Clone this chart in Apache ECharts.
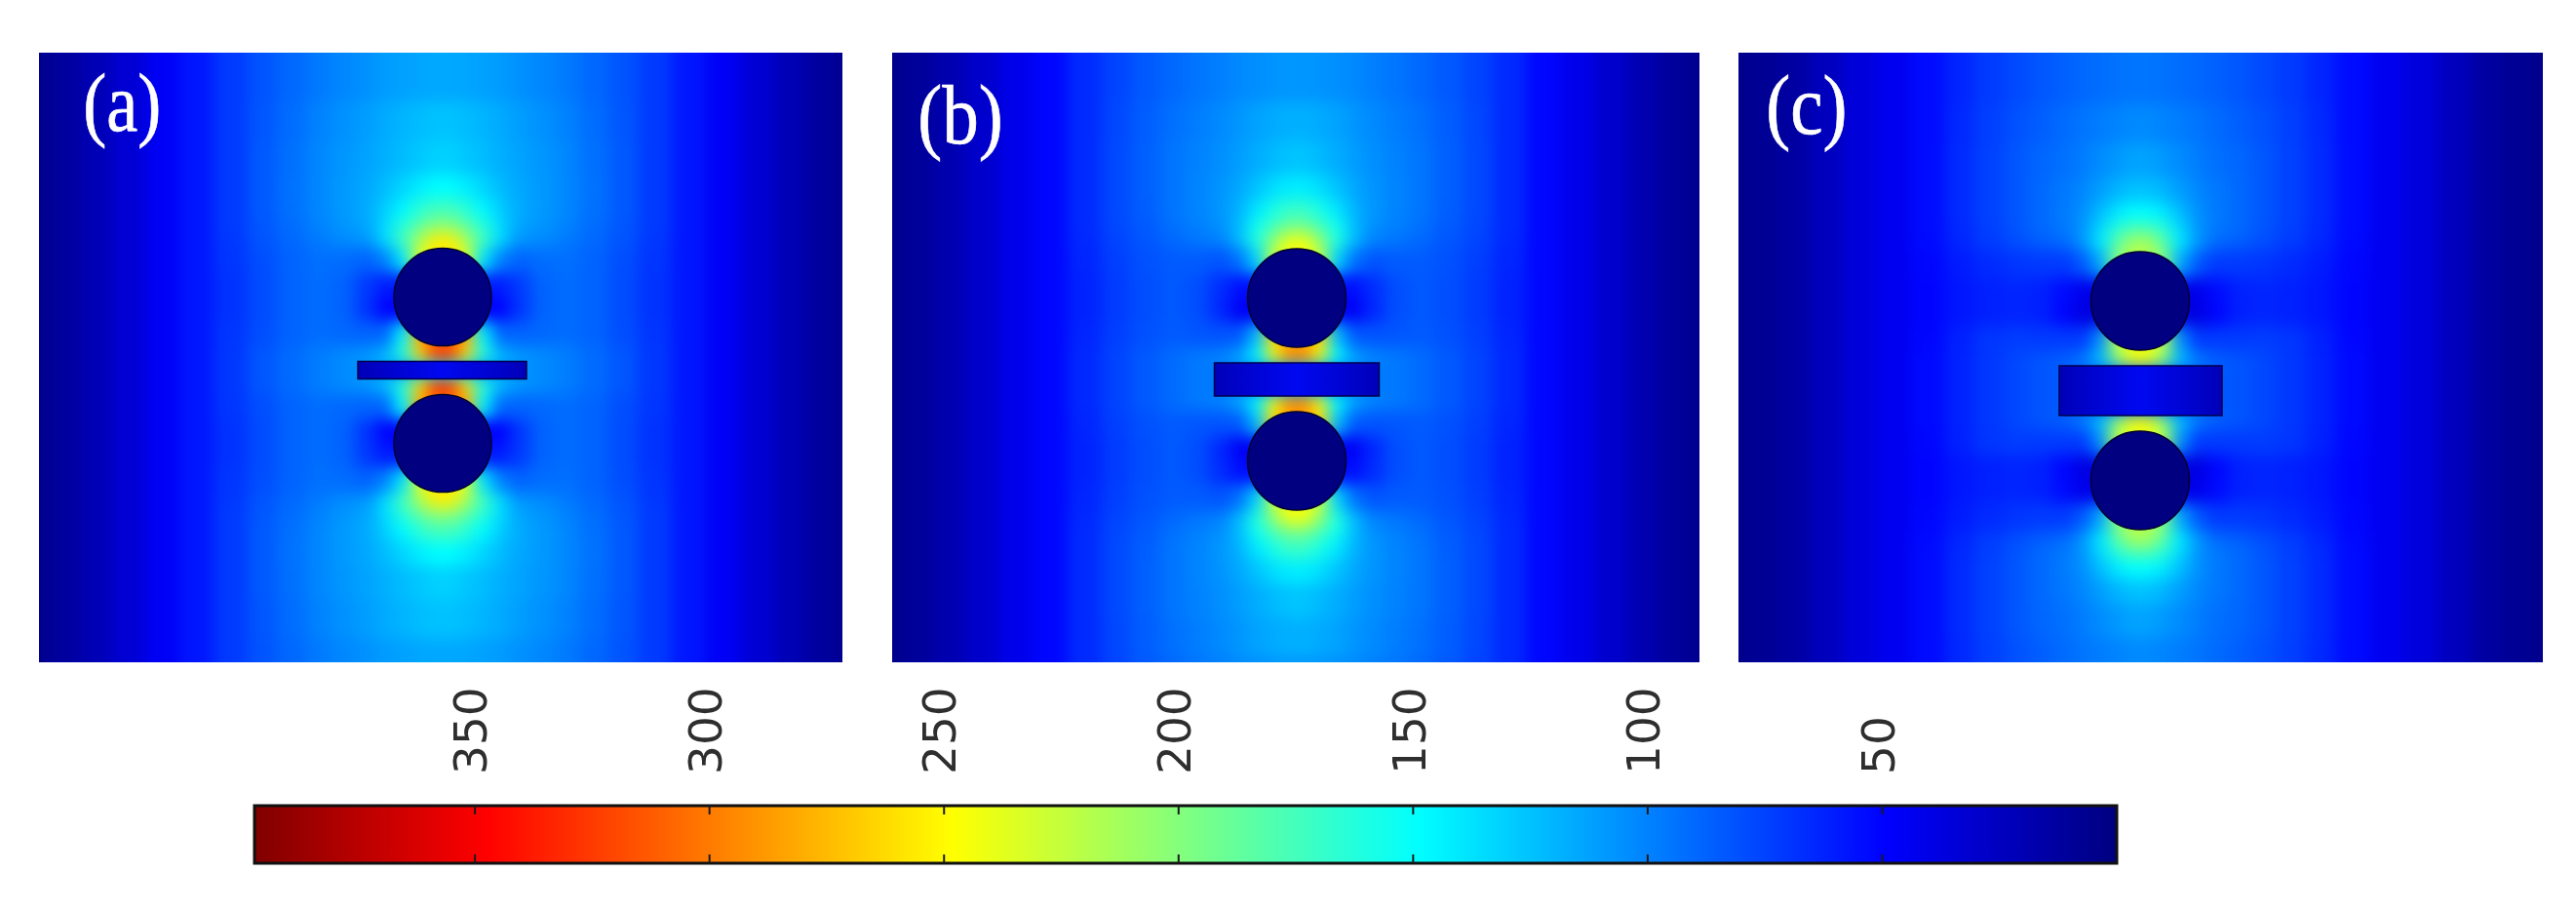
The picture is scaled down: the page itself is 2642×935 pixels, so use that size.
<!DOCTYPE html>
<html><head><meta charset="utf-8">
<script src="https://cdn.jsdelivr.net/npm/echarts@6/dist/echarts.min.js"></script>
<style>
html,body{margin:0;padding:0;background:#fff;width:2642px;height:935px;overflow:hidden}
#field,#overlay{position:absolute;left:0;top:0;width:2642px;height:935px}
#field{filter:blur(8px);clip-path:path('M40 54H864V679H40Z M915 54H1743V679H915Z M1783 54H2608V679H1783Z')}
#overlay{filter:blur(0.6px)}
</style></head><body>
<div id="field"></div><div id="overlay"></div>
<script>
const panelLabels=['(a)','(b)','(c)'];
const colorStops=['#00007f','#0000ff','#0080ff','#00ffff','#80ff80','#ffff00','#ff8000','#ff0000','#7f0000'];
const barTicks=[50,100,150,200,250,300,350];
const barMax=397;
const colHalfEdges=[0,16,32,50,68,90,115,140,170,200,235,270,305,340,372,404,435];
const rowHalfEdgesA=[0,9,17,25,50,75,100,125,140,155,175,200,235,275,370];
const rowHalfEdgesB=[0,17,25,33,58,83,108,134,149,164,184,209,244,284,370];
const rowHalfEdgesC=[0,25,33,41,66,91,116,143,158,173,193,218,253,293,370];
const fieldA=[
[5,12,21,33,46,58,72,82,90,97,102,106,110,112,114,115,114,112,110,106,102,97,90,82,72,58,46,33,21,12,5],
[5,12,21,33,46,58,72,83,92,100,106,111,116,120,123,125,123,120,116,111,106,100,92,83,72,58,46,33,21,12,5],
[5,12,21,33,46,58,72,84,93,102,108,113,118,123,127,131,127,123,118,113,108,102,93,84,72,58,46,33,21,12,5],
[5,12,21,33,46,58,72,84,94,102,109,115,123,133,142,148,142,133,123,115,109,102,94,84,72,58,46,33,21,12,5],
[5,12,21,33,46,58,72,84,93,102,109,116,130,147,165,175,165,147,130,116,109,102,93,84,72,58,46,33,21,12,5],
[5,12,21,33,46,58,72,83,92,100,107,114,135,165,188,205,188,165,135,114,107,100,92,83,72,58,46,33,21,12,5],
[5,12,21,33,46,58,71,82,90,97,103,108,135,175,215,255,215,175,135,108,103,97,90,82,71,58,46,33,21,12,5],
[5,12,21,33,46,58,70,80,88,93,92,88,100,140,235,255,235,140,100,88,92,93,88,80,70,58,46,33,21,12,5],
[5,12,21,33,46,58,69,79,88,92,88,72,60,60,60,60,60,60,60,72,88,92,88,79,69,58,46,33,21,12,5],
[5,12,21,33,46,58,69,79,88,92,88,70,50,50,50,50,50,50,50,70,88,92,88,79,69,58,46,33,21,12,5],
[5,12,21,33,46,58,70,80,88,92,90,88,90,145,280,310,280,145,90,88,90,92,88,80,70,58,46,33,21,12,5],
[5,12,21,33,46,58,71,83,91,98,103,108,122,165,262,325,262,165,122,108,103,98,91,83,71,58,46,33,21,12,5],
[5,12,21,33,46,58,71,83,91,98,103,108,122,165,262,320,262,165,122,108,103,98,91,83,71,58,46,33,21,12,5],
[5,12,21,33,46,58,71,83,91,98,103,107,110,110,130,130,130,110,110,107,103,98,91,83,71,58,46,33,21,12,5],
[5,12,21,33,46,58,71,83,91,98,103,108,122,165,262,320,262,165,122,108,103,98,91,83,71,58,46,33,21,12,5],
[5,12,21,33,46,58,71,83,91,98,103,108,122,165,262,325,262,165,122,108,103,98,91,83,71,58,46,33,21,12,5],
[5,12,21,33,46,58,70,80,88,92,90,88,90,145,280,310,280,145,90,88,90,92,88,80,70,58,46,33,21,12,5],
[5,12,21,33,46,58,69,79,88,92,88,70,50,50,50,50,50,50,50,70,88,92,88,79,69,58,46,33,21,12,5],
[5,12,21,33,46,58,69,79,88,92,88,72,60,60,60,60,60,60,60,72,88,92,88,79,69,58,46,33,21,12,5],
[5,12,21,33,46,58,70,80,88,93,92,88,100,140,235,255,235,140,100,88,92,93,88,80,70,58,46,33,21,12,5],
[5,12,21,33,46,58,71,82,90,97,103,108,135,175,215,255,215,175,135,108,103,97,90,82,71,58,46,33,21,12,5],
[5,12,21,33,46,58,72,83,92,100,107,114,135,165,188,205,188,165,135,114,107,100,92,83,72,58,46,33,21,12,5],
[5,12,21,33,46,58,72,84,93,102,109,116,130,147,165,175,165,147,130,116,109,102,93,84,72,58,46,33,21,12,5],
[5,12,21,33,46,58,72,84,94,102,109,115,123,133,142,148,142,133,123,115,109,102,94,84,72,58,46,33,21,12,5],
[5,12,21,33,46,58,72,84,93,102,108,113,118,123,127,131,127,123,118,113,108,102,93,84,72,58,46,33,21,12,5],
[5,12,21,33,46,58,72,83,92,100,106,111,116,120,123,125,123,120,116,111,106,100,92,83,72,58,46,33,21,12,5],
[5,12,21,33,46,58,72,82,90,97,102,106,110,112,114,115,114,112,110,106,102,97,90,82,72,58,46,33,21,12,5]];
const fieldB=[
[5,11,19,30,42,52,66,76,84,90,95,99,103,105,107,108,107,105,103,99,95,90,84,76,66,52,42,30,19,11,5],
[5,11,19,30,42,52,66,77,86,93,98,103,108,113,116,118,116,113,108,103,98,93,86,77,66,52,42,30,19,11,5],
[5,11,19,30,42,52,66,78,87,95,100,105,111,117,122,126,122,117,111,105,100,95,87,78,66,52,42,30,19,11,5],
[5,11,19,30,42,52,66,78,87,95,101,107,115,126,136,142,136,126,115,107,101,95,87,78,66,52,42,30,19,11,5],
[5,11,19,30,42,52,66,78,86,95,101,108,120,140,158,170,158,140,120,108,101,95,86,78,66,52,42,30,19,11,5],
[5,11,19,30,42,52,66,77,85,93,99,105,123,155,178,195,178,155,123,105,99,93,85,77,66,52,42,30,19,11,5],
[5,11,19,30,42,52,65,76,83,90,95,100,122,162,205,242,205,162,122,100,95,90,83,76,65,52,42,30,19,11,5],
[5,11,19,30,42,52,64,74,81,85,85,82,94,132,225,245,225,132,94,82,85,85,81,74,64,52,42,30,19,11,5],
[5,11,19,30,42,52,63,73,80,84,80,67,55,55,55,55,55,55,55,67,80,84,80,73,63,52,42,30,19,11,5],
[5,11,19,30,42,52,63,73,80,84,80,65,46,46,46,46,46,46,46,65,80,84,80,73,63,52,42,30,19,11,5],
[5,11,19,30,42,52,64,74,81,85,83,82,84,124,262,285,262,124,84,82,83,85,81,74,64,52,42,30,19,11,5],
[5,11,19,30,42,52,65,76,84,91,96,100,113,150,245,295,245,150,113,100,96,91,84,76,65,52,42,30,19,11,5],
[5,11,19,30,42,52,65,76,84,91,96,100,113,150,240,288,240,150,113,100,96,91,84,76,65,52,42,30,19,11,5],
[5,11,19,30,42,52,65,76,84,91,96,98,102,102,110,110,110,102,102,98,96,91,84,76,65,52,42,30,19,11,5],
[5,11,19,30,42,52,65,76,84,91,96,100,113,150,240,288,240,150,113,100,96,91,84,76,65,52,42,30,19,11,5],
[5,11,19,30,42,52,65,76,84,91,96,100,113,150,245,295,245,150,113,100,96,91,84,76,65,52,42,30,19,11,5],
[5,11,19,30,42,52,64,74,81,85,83,82,84,124,262,285,262,124,84,82,83,85,81,74,64,52,42,30,19,11,5],
[5,11,19,30,42,52,63,73,80,84,80,65,46,46,46,46,46,46,46,65,80,84,80,73,63,52,42,30,19,11,5],
[5,11,19,30,42,52,63,73,80,84,80,67,55,55,55,55,55,55,55,67,80,84,80,73,63,52,42,30,19,11,5],
[5,11,19,30,42,52,64,74,81,85,85,82,94,132,225,245,225,132,94,82,85,85,81,74,64,52,42,30,19,11,5],
[5,11,19,30,42,52,65,76,83,90,95,100,122,162,205,242,205,162,122,100,95,90,83,76,65,52,42,30,19,11,5],
[5,11,19,30,42,52,66,77,85,93,99,105,123,155,178,195,178,155,123,105,99,93,85,77,66,52,42,30,19,11,5],
[5,11,19,30,42,52,66,78,86,95,101,108,120,140,158,170,158,140,120,108,101,95,86,78,66,52,42,30,19,11,5],
[5,11,19,30,42,52,66,78,87,95,101,107,115,126,136,142,136,126,115,107,101,95,87,78,66,52,42,30,19,11,5],
[5,11,19,30,42,52,66,78,87,95,100,105,111,117,122,126,122,117,111,105,100,95,87,78,66,52,42,30,19,11,5],
[5,11,19,30,42,52,66,77,86,93,98,103,108,113,116,118,116,113,108,103,98,93,86,77,66,52,42,30,19,11,5],
[5,11,19,30,42,52,66,76,84,90,95,99,103,105,107,108,107,105,103,99,95,90,84,76,66,52,42,30,19,11,5]];
const fieldC=[
[4,8,13,24,36,44,54,64,72,78,83,87,90,92,94,95,94,92,90,87,83,78,72,64,54,44,36,24,13,8,4],
[4,8,13,24,36,44,54,65,74,81,86,91,95,98,101,103,101,98,95,91,86,81,74,65,54,44,36,24,13,8,4],
[4,8,13,24,36,44,54,66,75,83,89,93,98,104,109,113,109,104,98,93,89,83,75,66,54,44,36,24,13,8,4],
[4,8,13,24,36,44,54,66,75,83,90,96,102,111,120,125,120,111,102,96,90,83,75,66,54,44,36,24,13,8,4],
[4,8,13,24,36,44,54,66,75,83,90,97,106,123,140,148,140,123,106,97,90,83,75,66,54,44,36,24,13,8,4],
[4,8,13,24,36,44,54,65,74,82,90,96,108,135,165,180,165,135,108,96,90,82,74,65,54,44,36,24,13,8,4],
[4,8,13,24,36,44,53,64,72,79,85,90,108,140,185,215,185,140,108,90,85,79,72,64,53,44,36,24,13,8,4],
[4,8,13,24,36,44,52,60,66,70,72,72,84,115,200,220,200,115,84,72,72,70,66,60,52,44,36,24,13,8,4],
[4,8,13,24,36,44,51,58,62,64,62,54,42,42,42,42,42,42,42,54,62,64,62,58,51,44,36,24,13,8,4],
[4,8,13,24,36,44,51,58,62,64,62,52,38,38,38,38,38,38,38,52,62,64,62,58,51,44,36,24,13,8,4],
[4,8,13,24,36,44,52,62,70,73,72,72,72,105,220,240,220,105,72,72,72,73,70,62,52,44,36,24,13,8,4],
[4,8,13,24,36,44,53,63,71,77,82,86,97,125,205,245,205,125,97,86,82,77,71,63,53,44,36,24,13,8,4],
[4,8,13,24,36,44,53,63,71,77,82,86,97,125,200,240,200,125,97,86,82,77,71,63,53,44,36,24,13,8,4],
[4,8,13,24,36,44,53,63,71,77,82,84,86,86,90,90,90,86,86,84,82,77,71,63,53,44,36,24,13,8,4],
[4,8,13,24,36,44,53,63,71,77,82,86,97,125,200,240,200,125,97,86,82,77,71,63,53,44,36,24,13,8,4],
[4,8,13,24,36,44,53,63,71,77,82,86,97,125,205,245,205,125,97,86,82,77,71,63,53,44,36,24,13,8,4],
[4,8,13,24,36,44,52,62,70,73,72,72,72,105,220,240,220,105,72,72,72,73,70,62,52,44,36,24,13,8,4],
[4,8,13,24,36,44,51,58,62,64,62,52,38,38,38,38,38,38,38,52,62,64,62,58,51,44,36,24,13,8,4],
[4,8,13,24,36,44,51,58,62,64,62,54,42,42,42,42,42,42,42,54,62,64,62,58,51,44,36,24,13,8,4],
[4,8,13,24,36,44,52,60,66,70,72,72,84,115,200,220,200,115,84,72,72,70,66,60,52,44,36,24,13,8,4],
[4,8,13,24,36,44,53,64,72,79,85,90,108,140,185,215,185,140,108,90,85,79,72,64,53,44,36,24,13,8,4],
[4,8,13,24,36,44,54,65,74,82,90,96,108,135,165,180,165,135,108,96,90,82,74,65,54,44,36,24,13,8,4],
[4,8,13,24,36,44,54,66,75,83,90,97,106,123,140,148,140,123,106,97,90,83,75,66,54,44,36,24,13,8,4],
[4,8,13,24,36,44,54,66,75,83,90,96,102,111,120,125,120,111,102,96,90,83,75,66,54,44,36,24,13,8,4],
[4,8,13,24,36,44,54,66,75,83,89,93,98,104,109,113,109,104,98,93,89,83,75,66,54,44,36,24,13,8,4],
[4,8,13,24,36,44,54,65,74,81,86,91,95,98,101,103,101,98,95,91,86,81,74,65,54,44,36,24,13,8,4],
[4,8,13,24,36,44,54,64,72,78,83,87,90,92,94,95,94,92,90,87,83,78,72,64,54,44,36,24,13,8,4]];
const circleOffsets=[75,83.5,92];
const circleDiameters=[100,101,101];
const slabs=[[-87,86,-9,9],[-84.5,84.5,-17,17],[-83,84,-25.5,25.5]];

const panels=[
 {cx:454,cy:379.6,field:fieldA,rows:rowHalfEdgesA,lx:85,ly:109,fs:72},
 {cx:1330,cy:389,field:fieldB,rows:rowHalfEdgesB,lx:941,ly:121,fs:75},
 {cx:2195,cy:400.5,field:fieldC,rows:rowHalfEdgesC,lx:1811,ly:111,fs:75}];
const HX=435,HY=370;
function bands(h){const n=h.length,o=[];for(let i=n-1;i>1;i--)o.push([-h[i],-h[i-1]]);o.push([-h[1],h[1]]);for(let i=1;i<n-1;i++)o.push([h[i],h[i+1]]);return o;}
const grids=panels.map(p=>({left:p.cx-HX,top:p.cy-HY,width:2*HX,height:2*HY,show:false}));
const mkX=()=>panels.map((p,i)=>({type:'value',gridIndex:i,min:-HX,max:HX,show:false}));
const mkY=()=>panels.map((p,i)=>({type:'value',gridIndex:i,min:-HY,max:HY,inverse:true,show:false}));
const colBands=bands(colHalfEdges);

const fieldChart=echarts.init(document.getElementById('field'));
fieldChart.setOption({animation:false,grid:grids,xAxis:mkX(),yAxis:mkY(),
 visualMap:{show:false,type:'continuous',min:0,max:barMax,dimension:4,inRange:{color:colorStops},seriesIndex:[0,1,2]},
 series:panels.map((p,i)=>{const rb=bands(p.rows),d=[];
  rb.forEach((r,ri)=>colBands.forEach((c,ci)=>d.push([c[0],c[1],r[0],r[1],p.field[ri][ci]])));
  return {type:'custom',xAxisIndex:i,yAxisIndex:i,data:d,clip:false,silent:true,encode:{x:[0,1],y:[2,3]},
   renderItem:(params,api)=>{const a=api.coord([api.value(0),api.value(2)]),b=api.coord([api.value(1),api.value(3)]);
    return {type:'rect',shape:{x:a[0],y:a[1],width:b[0]-a[0]+1,height:b[1]-a[1]+1},style:{fill:api.visual('color')}};}};})
});

const overlay=echarts.init(document.getElementById('overlay'));
const barIdx=panels.length;
const oSeries=[];
panels.forEach((p,i)=>{
 oSeries.push({type:'custom',xAxisIndex:i,yAxisIndex:i,data:[slabs[i]],clip:false,silent:true,encode:{x:[0,1],y:[2,3]},
  renderItem:(params,api)=>{const a=api.coord([api.value(0),api.value(2)]),b=api.coord([api.value(1),api.value(3)]);
   return {type:'rect',shape:{x:a[0],y:a[1],width:b[0]-a[0],height:b[1]-a[1]},
    style:{fill:new echarts.graphic.LinearGradient(0,0,1,0,[{offset:0,color:'#0000b8'},{offset:.5,color:'#0008f0'},{offset:1,color:'#0000b8'}]),stroke:'#00004a',lineWidth:1.5}};}});
 oSeries.push({type:'scatter',xAxisIndex:i,yAxisIndex:i,symbol:'circle',symbolSize:circleDiameters[i],silent:true,clip:false,
  itemStyle:{color:'#000080',opacity:1,borderColor:'#000030',borderWidth:1.5},
  data:[[0,-circleOffsets[i]],[0,circleOffsets[i]]]});
});
oSeries.push({type:'custom',xAxisIndex:barIdx,yAxisIndex:barIdx,data:[[barMax,0,0,1]],silent:true,z:1,
 renderItem:(params,api)=>{const a=api.coord([api.value(0),api.value(3)]),b=api.coord([api.value(1),api.value(2)]);
  const rev=colorStops.slice().reverse().map((c,k)=>({offset:k/8,color:c}));
  return {type:'rect',shape:{x:a[0],y:a[1],width:b[0]-a[0],height:b[1]-a[1]},style:{fill:new echarts.graphic.LinearGradient(0,0,1,0,rev),stroke:'#111',lineWidth:3}};}});
oSeries.push({type:'custom',xAxisIndex:barIdx,yAxisIndex:barIdx,data:barTicks.map(v=>[v]),silent:true,z:3,
 renderItem:(params,api)=>{const t=api.coord([api.value(0),1]),b=api.coord([api.value(0),0]);
  const st={stroke:'#1a1a1a',lineWidth:2};
  return {type:'group',children:[
   {type:'line',shape:{x1:t[0],y1:t[1],x2:t[0],y2:t[1]+9},style:st},
   {type:'line',shape:{x1:b[0],y1:b[1],x2:b[0],y2:b[1]-9},style:st}]};}});
overlay.setOption({animation:false,backgroundColor:'transparent',
 grid:grids.concat([{left:261,top:826,width:1910,height:59,show:false}]),
 xAxis:mkX().concat([{type:'value',gridIndex:barIdx,min:0,max:barMax,inverse:true,position:'top',
   axisLine:{show:false},splitLine:{show:false},axisTick:{show:false},
   axisLabel:{show:true,rotate:90,margin:32,fontFamily:'DejaVu Sans',fontSize:47,color:'#2e2e2e',customValues:barTicks}}]),
 yAxis:mkY().concat([{type:'value',gridIndex:barIdx,min:0,max:1,show:false}]),
 series:oSeries,
 graphic:panels.map((p,i)=>({type:'text',left:p.lx,top:p.ly-p.fs/2-4,z:100,scaleY:1.17,originX:0,originY:0,
  style:{text:panelLabels[i],fill:'#fff',stroke:'#fff',lineWidth:0.6,font:p.fs+'px "Liberation Serif"'}}))
});
</script>
</body></html>
